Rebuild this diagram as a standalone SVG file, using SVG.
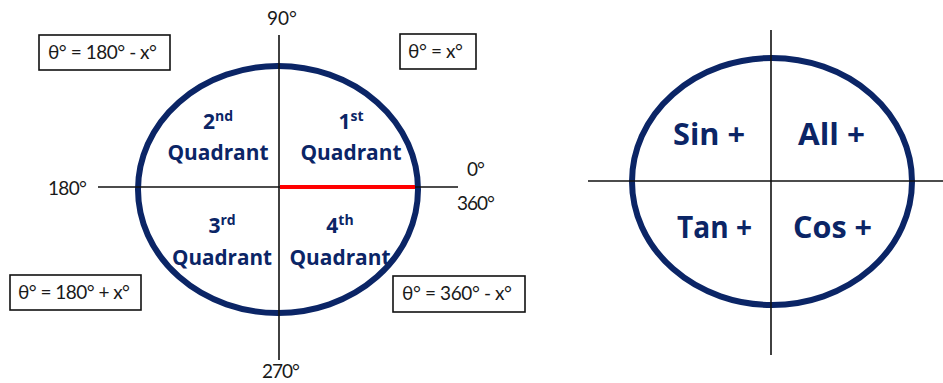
<svg xmlns="http://www.w3.org/2000/svg" width="943" height="383" viewBox="0 0 943 383">
<style>
.bg{fill:#ffffff}
.ell{fill:none;stroke:#0b2566;stroke-width:6}
.ax{stroke:#111;stroke-width:1.6;fill:none}
.red{stroke:#ff0000;stroke-width:4}
.box{fill:#fff;stroke:#111;stroke-width:1.6}
.lbl{font-family:Lato,"Open Sans","Liberation Sans",sans-serif;font-size:19px;fill:#1a1a1a}
.q{font-family:"Open Sans",Lato,"Liberation Sans",sans-serif;font-weight:bold;font-size:21px;fill:#0b2566;text-anchor:middle}
.sup{font-size:14px}
.big{font-family:"Open Sans",Lato,"Liberation Sans",sans-serif;font-weight:bold;font-size:31px;fill:#0b2566}
</style>
<rect class="bg" x="0" y="0" width="943" height="383"/>
<g id="left-diagram">
  <g id="left-circle"><ellipse class="ell" cx="278" cy="189.5" rx="140" ry="123.5"/></g>
  <g id="connectors-left">
    <line class="ax" x1="279" y1="35" x2="279" y2="360"/>
    <line class="ax" x1="98" y1="187" x2="458" y2="187"/>
    <line class="red" x1="280" y1="187" x2="415" y2="187"/>
  </g>
  <g id="axis-labels">
    <text class="lbl" x="267" y="25" textLength="30">90°</text>
    <text class="lbl" x="48" y="195" textLength="39">180°</text>
    <text class="lbl" x="467" y="176" textLength="18">0°</text>
    <text class="lbl" x="457" y="210" textLength="38">360°</text>
    <text class="lbl" x="262" y="378" textLength="38">270°</text>
  </g>
  <g id="q1"><text class="q" x="351" y="129">1<tspan class="sup" dy="-8">st</tspan></text><text class="q" x="351" y="160" textLength="101" lengthAdjust="spacingAndGlyphs">Quadrant</text></g>
  <g id="q2"><text class="q" x="218" y="129">2<tspan class="sup" dy="-8">nd</tspan></text><text class="q" x="218" y="160" textLength="101" lengthAdjust="spacingAndGlyphs">Quadrant</text></g>
  <g id="q3"><text class="q" x="222" y="233">3<tspan class="sup" dy="-8">rd</tspan></text><text class="q" x="222" y="265" textLength="100" lengthAdjust="spacingAndGlyphs">Quadrant</text></g>
  <g id="q4"><text class="q" x="340" y="233">4<tspan class="sup" dy="-8">th</tspan></text><text class="q" x="340" y="265" textLength="101" lengthAdjust="spacingAndGlyphs">Quadrant</text></g>
  <g id="box-q2"><rect class="box" x="39" y="35" width="131" height="35"/><text class="lbl" x="48" y="59" textLength="109">θ° = 180° - x°</text></g>
  <g id="box-q1"><rect class="box" x="400" y="34" width="76" height="35"/><text class="lbl" x="408" y="58" textLength="55">θ° = x°</text></g>
  <g id="box-q3"><rect class="box" x="10" y="275" width="131" height="35"/><text class="lbl" x="18" y="299" textLength="112">θ° = 180° + x°</text></g>
  <g id="box-q4"><rect class="box" x="393" y="276" width="132" height="36"/><text class="lbl" x="402" y="300" textLength="110">θ° = 360° - x°</text></g>
</g>
<g id="right-diagram">
  <g id="right-circle"><ellipse class="ell" cx="772" cy="181.5" rx="140" ry="123.5"/></g>
  <g id="connectors-right">
    <line class="ax" x1="771" y1="30" x2="771" y2="355"/>
    <line class="ax" x1="588" y1="181" x2="943" y2="181"/>
  </g>
  <g id="sin"><text class="big" x="673" y="145" textLength="72" lengthAdjust="spacingAndGlyphs">Sin +</text></g>
  <g id="all"><text class="big" x="798" y="145" textLength="67" lengthAdjust="spacingAndGlyphs">All +</text></g>
  <g id="tan"><text class="big" x="677" y="238" textLength="75" lengthAdjust="spacingAndGlyphs">Tan +</text></g>
  <g id="cos"><text class="big" x="793" y="238" textLength="79" lengthAdjust="spacingAndGlyphs">Cos +</text></g>
</g>
</svg>
